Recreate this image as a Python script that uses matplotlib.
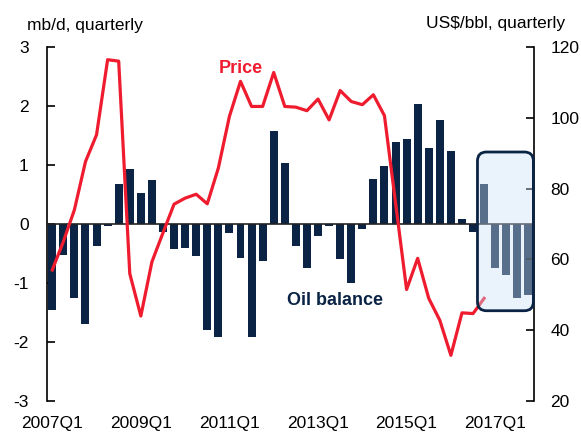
import numpy as np
import matplotlib
matplotlib.use("Agg")
import matplotlib.pyplot as plt
from matplotlib.patches import FancyBboxPatch

plt.rcParams['font.family'] = ['Liberation Sans', 'DejaVu Sans']
plt.rcParams['axes.unicode_minus'] = False

# quarters 2007Q1 .. 2017Q4
quarters = [f"{y}Q{q}" for y in range(2007, 2018) for q in range(1, 5)]

# oil balance, mb/d
balance = [-1.45, -0.53, -1.25, -1.70, -0.37, -0.03, 0.68, 0.93,
           0.53, 0.75, -0.13, -0.42, -0.40, -0.54, -1.80, -1.91,
           -0.15, -0.57, -1.92, -0.63, 1.58, 1.03, -0.37, -0.75,
           -0.20, -0.03, -0.60, -1.00, -0.08, 0.76, 0.98, 1.39,
           1.44, 2.04, 1.29, 1.76, 1.24, 0.09, -0.13, 0.68,
           -0.75, -0.87, -1.25, -1.21]

# oil price, US$/bbl (2007Q1 .. 2016Q4)
price = [57.0, 65.0, 74.0, 87.6, 95.2, 116.4, 116.0, 56.0,
         44.0, 59.3, 67.5, 75.6, 77.3, 78.4, 75.7, 85.8,
         100.4, 110.3, 103.2, 103.2, 112.8, 103.2, 103.0, 102.0,
         105.3, 99.4, 107.7, 104.6, 103.7, 106.5, 100.6, 76.0,
         51.5, 60.3, 49.0, 42.8, 32.9, 44.9, 44.7, 49.0]

tick_labels = ["2007Q1", "2009Q1", "2011Q1", "2013Q1", "2015Q1", "2017Q1"]

# forecast window highlighted
fc_start, fc_lo, fc_hi = 39, -1.47, 1.22

navy = "#0B2445"
red = "#EE1C2E"

fig = plt.figure(figsize=(5.81, 4.33), dpi=100)
ax = fig.add_axes([0.0804, 0.0739, 0.8386, 0.8176])
x = np.arange(len(quarters))
ax.bar(x, balance, width=0.72, color=navy, zorder=2)
ax.axhline(0, color="#222222", lw=1.2, zorder=3)
ax.set_xlim(-0.5, len(quarters) - 0.5)
ax.set_ylim(-3, 3)
ax.set_yticks(range(-3, 4))
ax.set_xticks([quarters.index(t) for t in tick_labels])
ax.set_xticklabels(tick_labels)
ax.tick_params(axis="x", length=0, labelsize=12.5, pad=11)
ax.tick_params(axis="y", direction="in", length=6, width=1.2, labelsize=12.5, pad=13)
for s in ["top", "right", "bottom"]:
    ax.spines[s].set_visible(False)
ax.spines["left"].set_linewidth(1.2)

ax2 = ax.twinx()
ax2.plot(np.arange(len(price)), price, color=red, lw=2.3, zorder=2)
ax2.set_ylim(20, 120)
ax2.set_yticks(range(20, 121, 20))
ax2.tick_params(axis="y", direction="in", length=6, width=1.2, labelsize=12.5, pad=12)
for s in ["top", "left", "bottom"]:
    ax2.spines[s].set_visible(False)
ax2.spines["right"].set_linewidth(1.2)

# rounded highlight box over the forecast quarters
x_px = ax.bbox.width / len(quarters)
y_px = ax.bbox.height / 6
box = FancyBboxPatch((fc_start - 0.6, fc_lo), len(quarters) - 0.55 - (fc_start - 0.6), fc_hi - fc_lo,
                     boxstyle="round,pad=0,rounding_size=%f" % (9 / x_px),
                     mutation_aspect=x_px / y_px,
                     transform=ax.transData, facecolor=(0.80, 0.88, 0.97, 0.4),
                     edgecolor=navy, lw=2, zorder=5, clip_on=False)
ax2.add_patch(box)

fig.text(0.0465, 0.942, "mb/d, quarterly", fontsize=12.5, va="center", ha="left")
fig.text(0.972, 0.945, "US$/bbl, quarterly", fontsize=12.5, va="center", ha="right")
ax2.text(17, 114, "Price", color=red, fontsize=13, fontweight="bold", ha="center", va="center")
ax.text(25.5, -1.3, "Oil balance", color=navy, fontsize=13, fontweight="bold", ha="center", va="center")

fig.savefig("out.png", dpi=100)
